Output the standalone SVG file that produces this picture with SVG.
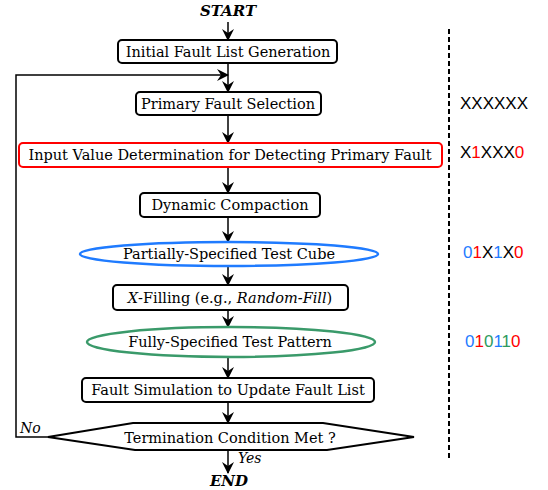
<svg xmlns="http://www.w3.org/2000/svg" width="548" height="490" viewBox="0 0 548 490">
<style>
.t{font-family:"DejaVu Serif","Liberation Serif",serif;font-size:14.5px;fill:#000;text-anchor:middle}
.bi{font-family:"DejaVu Serif","Liberation Serif",serif;font-size:15px;font-weight:bold;font-style:italic;text-anchor:middle}
.it{font-family:"DejaVu Serif","Liberation Serif",serif;font-size:14px;font-style:italic}
.box{fill:#fff;stroke:#000;stroke-width:2}
.lbl{font-family:"Liberation Sans",Arial,sans-serif;font-size:17px}
.c{stroke:#000;stroke-width:1.5;fill:none}
.k{fill:#000}.r{fill:#FF0000}.b{fill:#1F7BFF}.g{fill:#2E9A5E}
</style>
<defs>
<marker id="ah" viewBox="0 0 12 12" refX="11" refY="6" markerWidth="12" markerHeight="12" markerUnits="userSpaceOnUse" orient="auto">
<path d="M0,0 L12,6 L0,12 L4,6 z" fill="#000"/>
</marker>
</defs>
<text class="bi" x="228" y="16">START</text>
<g id="connectors">
<line class="c" x1="228" y1="22" x2="228" y2="40" marker-end="url(#ah)"/>
<line class="c" x1="228" y1="63" x2="228" y2="92" marker-end="url(#ah)"/>
<path class="c" d="M50,437 H16 V75 H228" marker-end="url(#ah)"/>
<line class="c" x1="228" y1="115" x2="228" y2="143" marker-end="url(#ah)"/>
<line class="c" x1="228" y1="167" x2="228" y2="193" marker-end="url(#ah)"/>
<line class="c" x1="228" y1="217" x2="228" y2="242" marker-end="url(#ah)"/>
<line class="c" x1="228" y1="266" x2="228" y2="285" marker-end="url(#ah)"/>
<line class="c" x1="228" y1="310" x2="228" y2="327" marker-end="url(#ah)"/>
<line class="c" x1="228" y1="357" x2="228" y2="378" marker-end="url(#ah)"/>
<line class="c" x1="228" y1="402" x2="228" y2="423" marker-end="url(#ah)"/>
<line class="c" x1="228" y1="450" x2="228" y2="473" marker-end="url(#ah)"/>
</g>
<g id="n1"><rect class="box" x="118" y="40" width="219" height="23" rx="4"/><text class="t" x="228" y="57">Initial Fault List Generation</text></g>
<g id="n2"><rect class="box" x="136" y="92" width="185" height="23" rx="4"/><text class="t" x="228" y="109">Primary Fault Selection</text></g>
<g id="n3"><rect class="box" x="19" y="143" width="423" height="24" rx="4" style="stroke:#FF0000"/><text class="t" x="230" y="160">Input Value Determination for Detecting Primary Fault</text></g>
<g id="n4"><rect class="box" x="140" y="193" width="180" height="24" rx="4"/><text class="t" x="230" y="210">Dynamic Compaction</text></g>
<g id="n5"><ellipse cx="229" cy="254" rx="149" ry="12" fill="#fff" stroke="#1F7BFF" stroke-width="2.5"/><text class="t" x="229" y="259">Partially-Specified Test Cube</text></g>
<g id="n6"><rect class="box" x="113" y="285" width="235" height="25" rx="4"/><text class="t" x="230" y="303"><tspan font-style="italic">X</tspan>-Filling (e.g., <tspan font-style="italic">Random-Fill</tspan>)</text></g>
<g id="n7"><ellipse cx="231" cy="342" rx="144" ry="15" fill="#fff" stroke="#3A9A6A" stroke-width="2.5"/><text class="t" x="230" y="347">Fully-Specified Test Pattern</text></g>
<g id="n8"><rect class="box" x="82" y="378" width="292" height="24" rx="4"/><text class="t" x="228" y="395">Fault Simulation to Update Fault List</text></g>
<g id="n9"><polygon class="box" points="48,437 133,423 323,423 414,437 327,450 135,450"/><text class="t" x="230" y="443">Termination Condition Met ?</text></g>
<text class="it" x="20" y="433">No</text>
<text class="it" x="238" y="463">Yes</text>
<text class="bi" x="229" y="486">END</text>
<line x1="449" y1="29" x2="449" y2="458" stroke="#000" stroke-width="2" stroke-dasharray="5,3"/>
<text class="lbl" x="460" y="109"><tspan class="k">XXXXXX</tspan></text>
<text class="lbl" x="460" y="158"><tspan class="k">X</tspan><tspan class="r">1</tspan><tspan class="k">XXX</tspan><tspan class="r">0</tspan></text>
<text class="lbl" x="463" y="258"><tspan class="b">0</tspan><tspan class="r">1</tspan><tspan class="k">X</tspan><tspan class="b">1</tspan><tspan class="k">X</tspan><tspan class="r">0</tspan></text>
<text class="lbl" x="465" y="347"><tspan class="b">0</tspan><tspan class="r">1</tspan><tspan class="g">0</tspan><tspan class="b">1</tspan><tspan class="g">1</tspan><tspan class="r">0</tspan></text>
</svg>
